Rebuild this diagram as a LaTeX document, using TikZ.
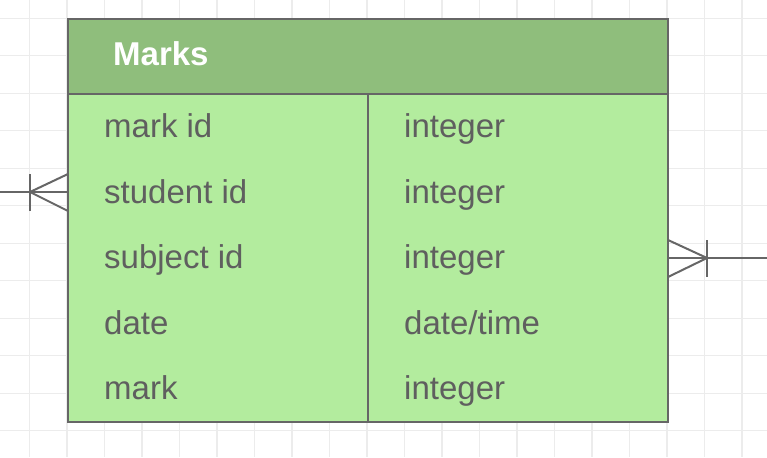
\documentclass[tikz,border=0pt]{standalone}
\usepackage{fontspec}
\setmainfont{Liberation Sans}
\usetikzlibrary{positioning,calc}

\definecolor{headgreen}{RGB}{143,190,124}
\definecolor{bodygreen}{RGB}{179,236,158}
\definecolor{edgegray}{RGB}{102,102,102}
\definecolor{textgray}{RGB}{95,95,95}
\definecolor{gridgray}{RGB}{236,236,236}

\begin{document}
\begin{tikzpicture}[x=1pt, y=-1pt,
    gridline/.style={draw=gridgray, line width=1.3pt},
    header/.style={draw=edgegray, line width=2pt, fill=headgreen,
        minimum width=600pt, minimum height=75pt, inner sep=0pt},
    tbody/.style={draw=edgegray, line width=2pt, fill=bodygreen,
        minimum width=600pt, minimum height=328pt, inner sep=0pt},
    field/.style={anchor=base west, inner sep=0pt, text=textgray,
        font=\fontsize{33}{40}\selectfont},
    title/.style={anchor=base west, inner sep=0pt, text=white,
        font=\fontsize{33}{40}\selectfont\bfseries},
    rel/.style={draw=edgegray, line width=2pt},
]
\useasboundingbox (0,0) rectangle (767,457);

% Background grid
\foreach \gx in {0,...,20}
    \draw[gridline] (29.5+37.5*\gx,0) -- (29.5+37.5*\gx,457);
\foreach \gy in {0,...,12}
    \draw[gridline] (0,18.3+37.5*\gy) -- (767,18.3+37.5*\gy);

% Table: header and body
\node[header] (head) at (368,56.5) {};
\node[tbody]  (body) at (368,258)  {};
\draw[edgegray, line width=2pt] (368,94) -- (body.south);
\node[title] (marks) at (113,66) {Marks};

% Field names
\node[field] (f1) at (104,137.5) {mark id};
\node[field] (f2) at (104,203)   {student id};
\node[field] (f3) at (104,268.5) {subject id};
\node[field] (f4) at (104,334)   {date};
\node[field] (f5) at (104,399.5) {mark};

% Field types
\node[field] (t1) at (404,137.5) {integer};
\node[field] (t2) at (404,203)   {integer};
\node[field] (t3) at (404,268.5) {integer};
\node[field] (t4) at (404,334)   {date/time};
\node[field] (t5) at (404,399.5) {integer};

% Relation on the left (many)
\coordinate (lfree) at (0,192);
\coordinate (lbar)  at (30,192);
\draw[rel] (lfree) -- (body.west |- lfree);
\draw[rel] (30,174) -- (30,211);
\draw[rel] (lbar) -- (68,174);
\draw[rel] (lbar) -- (68,211);

% Relation on the right (many)
\coordinate (rfree) at (767,258);
\coordinate (rbar)  at (707,258);
\draw[rel] (body.east |- rfree) -- (rfree);
\draw[rel] (707,240) -- (707,277);
\draw[rel] (rbar) -- (668,240);
\draw[rel] (rbar) -- (668,277);

\end{tikzpicture}
\end{document}
